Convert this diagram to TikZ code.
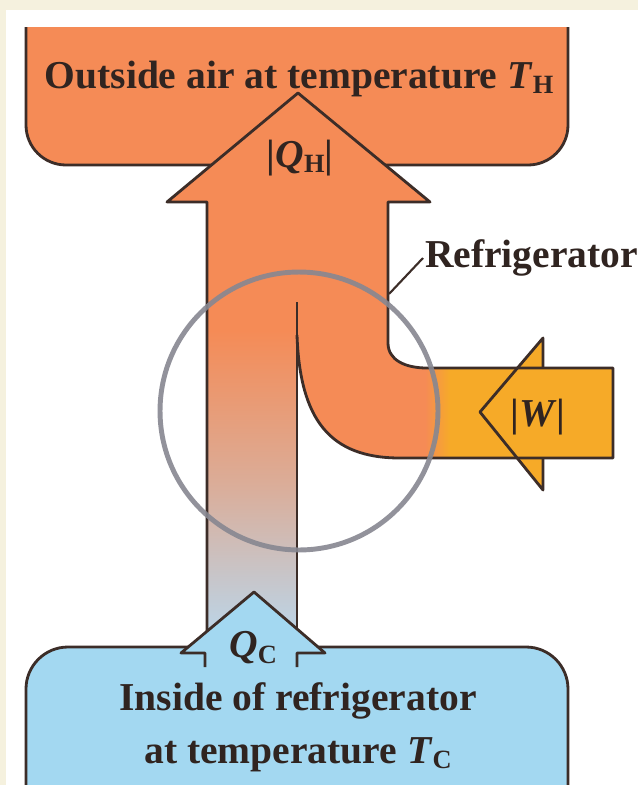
\documentclass[tikz,border=0pt]{standalone}
\usepackage{fontspec}
\setmainfont{Liberation Serif}
\usepackage{tikz}
\definecolor{hotair}{RGB}{245,139,86}
\definecolor{work}{RGB}{246,170,40}
\definecolor{coldbox}{RGB}{163,216,241}
\definecolor{coldflow}{RGB}{188,212,230}
\definecolor{edge}{RGB}{60,45,40}
\definecolor{ring}{RGB}{135,135,145}
\definecolor{paper}{RGB}{245,241,222}
\newcommand{\lowidx}[1]{\raisebox{-0.3ex}{\fontsize{15}{15}\selectfont #1}}

\begin{document}
\begin{tikzpicture}[x=0.02cm,y=-0.02cm,
  flowline/.style={draw=edge,line width=1.6pt,line join=round},
  lbl/.style={font=\fontsize{22.5}{30}\selectfont\bfseries,text=edge!80!black,inner sep=1pt}]

\useasboundingbox (0,0) rectangle (638,785);
\fill[white] (0,0) rectangle (638,785);
\fill[paper] (0,0) rectangle (638,10);
\fill[paper] (0,0) rectangle (6,785);

% outside air
\path[fill=hotair,flowline,rounded corners=0.8cm] (26,27) -- (26,165) -- (568,165) -- (568,27);
% inside of refrigerator
\path[fill=coldbox,flowline,rounded corners=0.84cm] (26,785) -- (26,647) -- (568,647) -- (568,785);

% flow body
\fill[hotair] (207,631) -- (207,202) -- (167,202) -- (298,93) -- (430,202) -- (388,202) -- (388,343) .. controls (388,360) and (405,368) .. (427,368) -- (613,368) -- (613,458) -- (400,458) .. controls (330,458) and (300,420) .. (297,335) -- (297,631) -- cycle;
\shade[top color=hotair,bottom color=coldflow,middle color=hotair!55!coldflow] (207,330) rectangle (297,631);
\shade[left color=hotair,right color=work] (425,368) rectangle (450,458);
\fill[work] (450,368) rectangle (613,458);
\fill[work] (543,368) -- (543,338) -- (480,412) -- (543,490) -- (543,458) -- cycle;

% Q_C head
\fill[coldbox] (181,653) -- (254,592) -- (325,653) -- cycle;
\draw[flowline] (205,667) -- (205,653) -- (181,653) -- (254,592) -- (325,653) -- (297,653) -- (297,667);

\draw[flowline] (207,631) -- (207,202) -- (167,202) -- (298,93) -- (430,202) -- (388,202) -- (388,343) .. controls (388,360) and (405,368) .. (427,368) -- (613,368) -- (613,458) -- (400,458) .. controls (330,458) and (300,420) .. (297,335);
\draw[flowline] (297,302) -- (297,629);
\draw[flowline] (543,368) -- (543,338) -- (480,412) -- (543,490) -- (543,458);

% refrigerator
\draw[ring,line width=2.8pt,opacity=0.9] (299,411) circle [radius=2.78cm];

\node[lbl] (toplbl) at (299,79) {Outside air at temperature \textit{T}\lowidx{H}};
\node[lbl] (qh) at (300,158) {|\textit{Q}\lowidx{H}|};
\node[lbl,anchor=west] (fridge) at (423,258) {Refrigerator};
\coordinate (fridgept) at (389,294);
\draw[edge,line width=1.2pt] (fridge.west) -- (fridgept);
\node[lbl] (w) at (538,417) {|\textit{W}|};
\node[lbl] (qc) at (253,648) {\textit{Q}\lowidx{C}};
\node[lbl,align=center] (botlbl) at (298,727) {Inside of refrigerator\\at temperature \textit{T}\lowidx{C}};
\end{tikzpicture}
\end{document}
